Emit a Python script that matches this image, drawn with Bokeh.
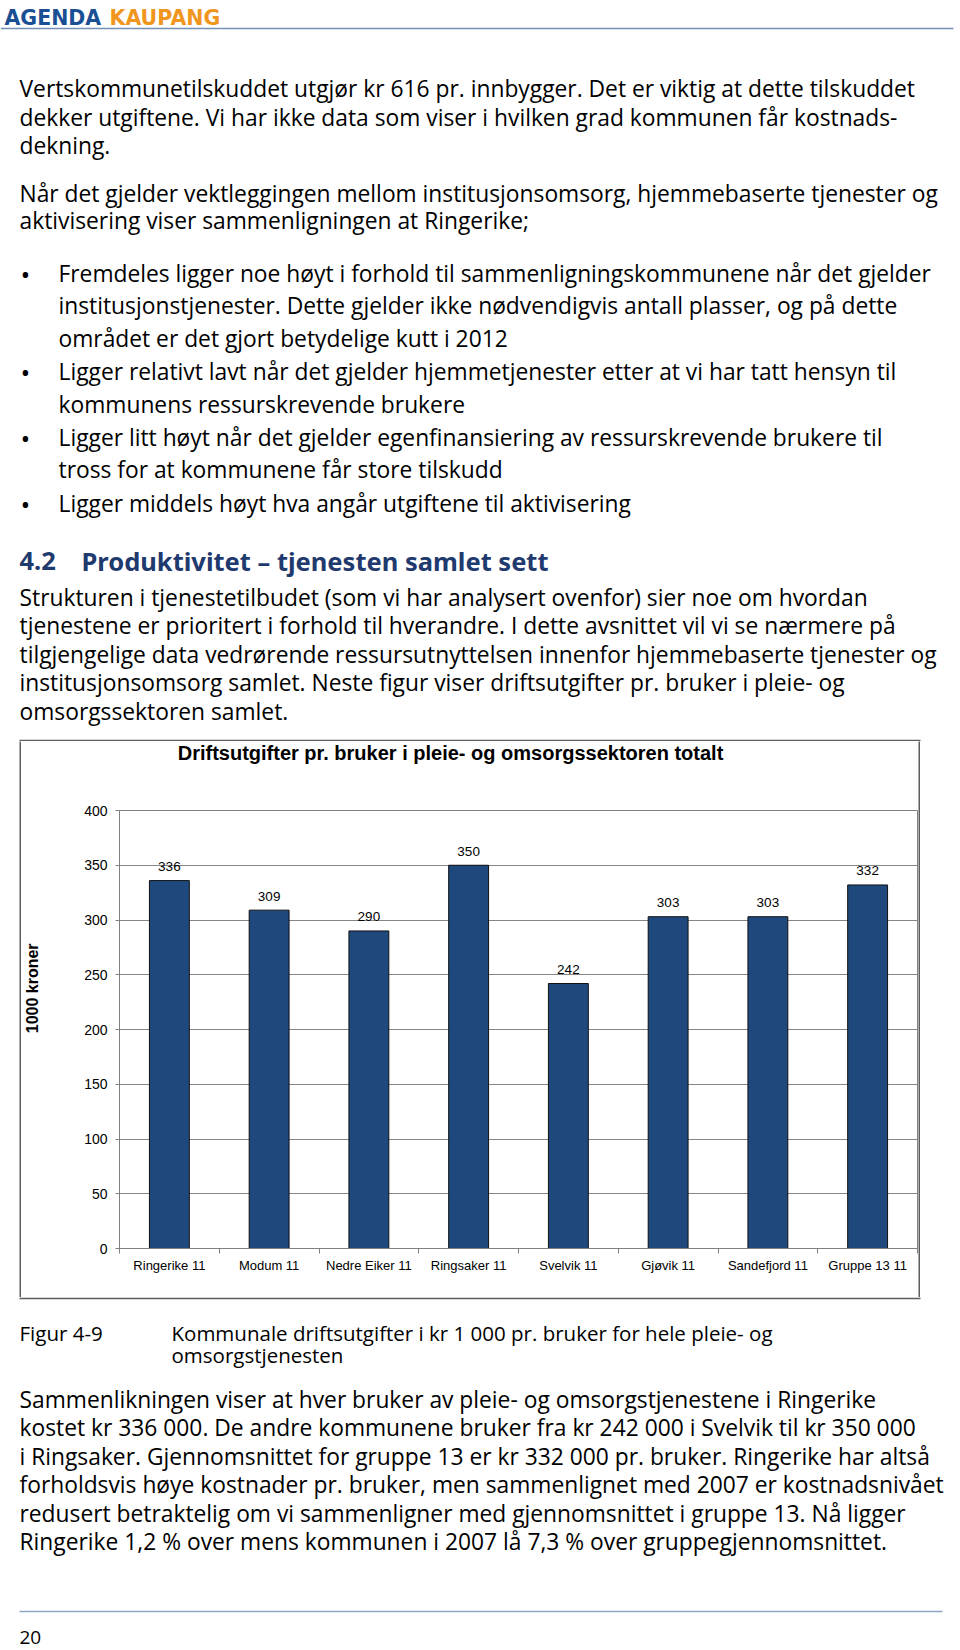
import math
from bokeh.plotting import figure
from bokeh.layouts import column, row
from bokeh.models import (Range1d, LinearAxis, FixedTicker, Label, LabelSet,
                          ColumnDataSource, Grid, Spacer)
from bokeh.core.properties import value
from bokeh.embed import file_html
from bokeh.resources import INLINE

# ---------------- data ----------------
categories = ["Ringerike 11", "Modum 11", "Nedre Eiker 11", "Ringsaker 11",
              "Svelvik 11", "Gjøvik 11", "Sandefjord 11", "Gruppe 13 11"]
values = [336, 309, 290, 350, 242, 303, 303, 332]
y_ticks = [0, 50, 100, 150, 200, 250, 300, 350, 400]
chart_title = "Driftsutgifter pr. bruker i pleie- og omsorgssektoren totalt"
y_label = "1000 kroner"

para1 = ["Vertskommunetilskuddet utgjør kr 616 pr. innbygger. Det er viktig at dette tilskuddet",
         "dekker utgiftene. Vi har ikke data som viser i hvilken grad kommunen får kostnads-",
         "dekning."]
para2 = ["Når det gjelder vektleggingen mellom institusjonsomsorg, hjemmebaserte tjenester og",
         "aktivisering viser sammenligningen at Ringerike;"]
bullets = [["Fremdeles ligger noe høyt i forhold til sammenligningskommunene når det gjelder",
            "institusjonstjenester. Dette gjelder ikke nødvendigvis antall plasser, og på dette",
            "området er det gjort betydelige kutt i 2012"],
           ["Ligger relativt lavt når det gjelder hjemmetjenester etter at vi har tatt hensyn til",
            "kommunens ressurskrevende brukere"],
           ["Ligger litt høyt når det gjelder egenfinansiering av ressurskrevende brukere til",
            "tross for at kommunene får store tilskudd"],
           ["Ligger middels høyt hva angår utgiftene til aktivisering"]]
heading_num = "4.2"
heading_txt = "Produktivitet – tjenesten samlet sett"
para3 = ["Strukturen i tjenestetilbudet (som vi har analysert ovenfor) sier noe om hvordan",
         "tjenestene er prioritert i forhold til hverandre. I dette avsnittet vil vi se nærmere på",
         "tilgjengelige data vedrørende ressursutnyttelsen innenfor hjemmebaserte tjenester og",
         "institusjonsomsorg samlet. Neste figur viser driftsutgifter pr. bruker i pleie- og",
         "omsorgssektoren samlet."]
caption_num = "Figur 4-9"
caption = ["Kommunale driftsutgifter i kr 1 000 pr. bruker for hele pleie- og",
           "omsorgstjenesten"]
para4 = ["Sammenlikningen viser at hver bruker av pleie- og omsorgstjenestene i Ringerike",
         "kostet kr 336 000. De andre kommunene bruker fra kr 242 000 i Svelvik til kr 350 000",
         "i Ringsaker. Gjennomsnittet for gruppe 13 er kr 332 000 pr. bruker. Ringerike har altså",
         "forholdsvis høye kostnader pr. bruker, men sammenlignet med 2007 er kostnadsnivået",
         "redusert betraktelig om vi sammenligner med gjennomsnittet i gruppe 13. Nå ligger",
         "Ringerike 1,2 % over mens kommunen i 2007 lå 7,3 % over gruppegjennomsnittet."]
page_no = "20"

# ---------------- styles ----------------
BODY_FONT = "Open Sans"
BODY_SIZE = "22.8px"
CAPTION_SIZE = "20.5px"
CHART_FONT = "Liberation Sans"
BOX_COLOR = "#5E5E5E"
HEAD_COLOR = "#1F3A6E"


def page_fig(x0, x1, y0, y1, bg="white"):
    """A figure whose data coordinates equal page pixel coordinates."""
    return figure(width=x1 - x0, height=y1 - y0, x_range=Range1d(x0, x1),
                  y_range=Range1d(y1, y0), output_backend="svg", toolbar_location=None,
                  x_axis_type=None, y_axis_type=None, min_border=0,
                  outline_line_color=None, background_fill_color=bg, border_fill_color=bg)


def txt(f, x, y, s, size=BODY_SIZE, font=BODY_FONT, color="black", style="normal",
        align="left", angle=0.0):
    f.add_layout(Label(x=x, y=y, text=s, text_font=font, text_font_size=size,
                       text_color=color, text_font_style=style, text_align=align,
                       text_baseline="middle", angle=angle))


def bar_line(f, x0, x1, y0, y1, color):
    f.quad(left=[x0], right=[x1], top=[y0], bottom=[y1], fill_color=color, line_alpha=0)


# ---------------- top text block (page y 0..741) ----------------
top = page_fig(0, 960, 0, 741)
txt(top, 4, 17, "AGENDA", size="20.5px", font="DejaVu Sans", color="#1B4F93", style="bold")
txt(top, 109, 17, "KAUPANG", size="20.5px", font="DejaVu Sans", color="#F0961E", style="bold")
bar_line(top, 0, 953, 27.2, 28.8, "#7391B8")

LX, BX, BTX = 19, 25, 58
for s, y in zip(para1, [88, 117, 145]):
    txt(top, LX, y, s)
for s, y in zip(para2, [193, 220]):
    txt(top, LX, y, s)
by = [273, 305, 338, 371, 404, 437, 469, 503]
k = 0
for b in bullets:
    txt(top, BX, by[k], "•", size="26px", align="center")
    for s in b:
        txt(top, BTX, by[k], s)
        k += 1
txt(top, LX, 560, heading_num, size="25.5px", font="Noto Sans", color=HEAD_COLOR,
    style="bold")
txt(top, 81, 560, heading_txt, size="25.5px", font="Noto Sans", color=HEAD_COLOR,
    style="bold")
for s, y in zip(para3, [597, 625, 654, 682, 711]):
    txt(top, LX, y, s)
bar_line(top, 19, 920, 739.3, 741, BOX_COLOR)          # chart box, top edge

# ---------------- chart block (page y 741..1297) ----------------
ctitle = page_fig(21, 918, 741, 802)
txt(ctitle, 450, 752, chart_title, size="20px", font=CHART_FONT, style="bold",
    align="center")

ylab = page_fig(21, 61, 802, 1297)
txt(ylab, 32, 1003, y_label, size="16px", font=CHART_FONT, style="bold", align="center",
    angle=math.pi / 2)

idx = list(range(len(categories)))
bounds = [i - 0.5 for i in range(len(categories) + 1)]

p = figure(width=857, height=495, output_backend="svg", toolbar_location=None,
           x_range=Range1d(-0.5, len(categories) - 0.5), y_range=Range1d(0, 400),
           x_axis_type=None, y_axis_type=None,
           min_border_left=58, min_border_right=1, min_border_top=8, min_border_bottom=49,
           background_fill_color="white", border_fill_color="white",
           outline_line_color="#808080", outline_line_width=1)

yaxis = LinearAxis(ticker=FixedTicker(ticks=y_ticks), axis_line_color="#808080",
                   major_tick_line_color="#808080", major_tick_out=4, major_tick_in=0,
                   minor_tick_line_color=None, major_label_standoff=8,
                   major_label_text_font=CHART_FONT, major_label_text_font_size="14px",
                   major_label_text_color="black")
p.add_layout(yaxis, "left")

xaxis = LinearAxis(ticker=FixedTicker(ticks=idx, minor_ticks=bounds),
                   axis_line_color="#808080", major_tick_out=0, major_tick_in=0,
                   major_tick_line_color=None,
                   minor_tick_out=5, minor_tick_in=0, minor_tick_line_color="#808080",
                   major_label_overrides={i: c for i, c in enumerate(categories)},
                   major_label_standoff=4, major_label_text_font=CHART_FONT,
                   major_label_text_font_size="13px", major_label_text_color="black")
p.add_layout(xaxis, "below")

p.add_layout(Grid(dimension=1, ticker=FixedTicker(ticks=y_ticks),
                  grid_line_color="#868686", grid_line_width=1))

src = ColumnDataSource(dict(x=idx, cat=categories, val=values, lab=[str(v) for v in values]))
p.vbar(x="x", top="val", width=0.4, source=src, fill_color="#1F497D",
       line_color="#111111", line_width=1)
p.add_layout(LabelSet(x="x", y="val", text="lab", source=src, y_offset=14,
                      text_align="center", text_baseline="middle",
                      text_font=value(CHART_FONT), text_font_size=value("13.5px"),
                      text_color="black"))

edge_l = page_fig(19, 21, 741, 1297, bg=BOX_COLOR)
edge_r = page_fig(918, 920, 741, 1297, bg=BOX_COLOR)
chart_block = row(Spacer(width=19, height=556), edge_l,
                  column(ctitle, row(ylab, p)), edge_r)

# ---------------- bottom text block (page y 1297..1650) ----------------
bot = page_fig(0, 960, 1297, 1650)
bar_line(bot, 19, 920, 1297, 1298.8, BOX_COLOR)        # chart box, bottom edge
txt(bot, LX, 1332, caption_num, size=CAPTION_SIZE)
for s, y in zip(caption, [1332, 1354]):
    txt(bot, 171, y, s, size=CAPTION_SIZE)
for s, y in zip(para4, [1399, 1427, 1456, 1484, 1513, 1541]):
    txt(bot, LX, y, s)
bar_line(bot, 19, 942, 1610.3, 1611.8, "#8EA6C4")
txt(bot, LX, 1637, page_no, size="19px")

page = column(top, chart_block, bot)
open("out.html", "w").write(file_html(page, INLINE))
